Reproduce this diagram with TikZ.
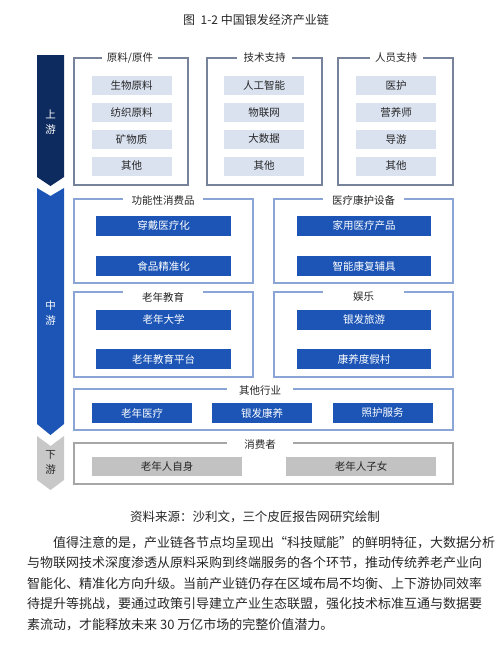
\documentclass[tikz,border=0pt]{standalone}
\usepackage{fontspec}
\setmainfont{Noto Sans CJK SC}
\XeTeXlinebreaklocale "zh"
\XeTeXlinebreakskip=0pt plus 2pt
\usepackage{xcolor}

\definecolor{navyup}{HTML}{0E2B5F}
\definecolor{bluemid}{HTML}{1C55B6}
\definecolor{frameup}{HTML}{76839B}
\definecolor{framemid}{HTML}{8AA5D6}
\definecolor{fillup}{HTML}{DAE2F0}
\definecolor{graybar}{HTML}{C8C8C8}
\definecolor{grayframe}{HTML}{A6A6A6}
\definecolor{grayfill}{HTML}{C2C2C2}
\definecolor{textdark}{HTML}{262626}

\tikzset{
  upframe/.style={draw=frameup, line width=1.2pt},
  midframe/.style={draw=framemid, line width=1.2pt},
  lowframe/.style={draw=grayframe, line width=1.2pt},
  grptitle/.style={fill=white, inner sep=0pt, minimum height=12pt, text=textdark},
  upbox/.style={fill=fillup, minimum width=80pt, minimum height=19pt, inner sep=0pt, text=textdark},
  midbox/.style={fill=bluemid, minimum height=20pt, inner sep=0pt, text=white},
  lowbox/.style={fill=grayfill, minimum width=150pt, minimum height=19pt, inner sep=0pt, text=textdark},
  barlabel/.style={align=center, inner sep=0pt, font=\fontsize{10.5}{15}\selectfont},
  paraline/.style={anchor=west, inner sep=0pt, text=textdark, font=\fontsize{13}{13}\selectfont}
}

\begin{document}
\begin{tikzpicture}[x=1pt, y=-1pt, font=\fontsize{10.5}{12}\selectfont]
  \useasboundingbox (0,0) rectangle (502,665);

  % Caption
  \node[text=textdark, font=\fontsize{12}{12}\selectfont] (caption) at (256,20) {图\ \ 1-2\ 中国银发经济产业链};

  % Stage bar on the left
  \fill[navyup] (37,55) -- (64,55) -- (64,177) -- (50.5,186) -- (37,177) -- cycle;
  \fill[bluemid] (37,188) -- (50.5,196) -- (64,188) -- (64,424) -- (50.5,435) -- (37,424) -- cycle;
  \fill[graybar] (37,436) -- (50.5,446) -- (64,436) -- (64,480) -- (50.5,490) -- (37,480) -- cycle;
  \node[barlabel, text=white] (up) at (50.5,122.5) {上\\游};
  \node[barlabel, text=white] (mid) at (50.5,313.5) {中\\游};
  \node[barlabel, text=textdark] (down) at (50.5,462) {下\\游};

  % Upstream groups
  \draw[upframe] (74,58) rectangle (188,185);
  \draw[upframe] (207,58) rectangle (322,185);
  \draw[upframe] (338,58) rectangle (453,185);
  \node[grptitle, minimum width=56pt] (rawt) at (130,58) {原料/原件};
  \node[grptitle, minimum width=55pt] (techt) at (264.5,58) {技术支持};
  \node[grptitle, minimum width=53pt] (staft) at (396,58) {人员支持};

  \node[upbox] (raw1) at (131.5,85.5) {生物原料};
  \node[upbox] (raw2) at (131.5,112.5) {纺织原料};
  \node[upbox] (raw3) at (131.5,139) {矿物质};
  \node[upbox] (raw4) at (131.5,166) {其他};

  \node[upbox] (tech1) at (264,85.5) {人工智能};
  \node[upbox] (tech2) at (264,112.5) {物联网};
  \node[upbox] (tech3) at (264,139) {大数据};
  \node[upbox] (tech4) at (264,166) {其他};

  \node[upbox] (staf1) at (396,85.5) {医护};
  \node[upbox] (staf2) at (396,112.5) {营养师};
  \node[upbox] (staf3) at (396,139) {导游};
  \node[upbox] (staf4) at (396,166) {其他};

  % Midstream groups
  \draw[midframe] (74,199) rectangle (253,283);
  \draw[midframe] (274,199) rectangle (453,283);
  \draw[midframe] (74,292) rectangle (253,377);
  \draw[midframe] (274,292) rectangle (453,377);
  \node[grptitle, minimum width=80pt] (funct) at (163,200) {功能性消费品};
  \node[grptitle, minimum width=81pt] (medt) at (363.5,200) {医疗康护设备};
  \node[grptitle, minimum width=80pt, minimum height=14pt] (edut) at (163,297) {老年教育};
  \node[grptitle, minimum width=81pt, minimum height=14pt] (funt) at (363.5,297) {娱乐};

  \node[midbox, minimum width=135pt] (func1) at (163.5,226) {穿戴医疗化};
  \node[midbox, minimum width=135pt] (func2) at (163.5,266) {食品精准化};
  \node[midbox, minimum width=134pt] (med1) at (364,226) {家用医疗产品};
  \node[midbox, minimum width=134pt] (med2) at (364,266) {智能康复辅具};
  \node[midbox, minimum width=135pt] (edu1) at (163.5,319.5) {老年大学};
  \node[midbox, minimum width=135pt] (edu2) at (163.5,359) {老年教育平台};
  \node[midbox, minimum width=134pt] (fun1) at (364,319.5) {银发旅游};
  \node[midbox, minimum width=134pt] (fun2) at (364,359) {康养度假村};

  % Other industries
  \draw[midframe] (74,389) rectangle (453,430);
  \node[grptitle, minimum width=66pt] (otht) at (260,391) {其他行业};
  \node[midbox, minimum width=100pt] (oth1) at (142,413) {老年医疗};
  \node[midbox, minimum width=100pt] (oth2) at (262,413) {银发康养};
  \node[midbox, minimum width=100pt] (oth3) at (382.5,413) {照护服务};

  % Downstream
  \draw[lowframe] (74,443) rectangle (453,484);
  \node[grptitle, minimum width=66pt] (cont) at (260,444) {消费者};
  \node[lowbox] (con1) at (167,466.5) {老年人自身};
  \node[lowbox] (con2) at (361,466.5) {老年人子女};

  % Source and text
  \node[text=textdark, font=\fontsize{12.5}{12.5}\selectfont] (source) at (255,517) {资料来源：沙利文，三个皮匠报告网研究绘制};
  \node[paraline] (line1) at (53,543) {\makebox[432pt][s]{值得注意的是，产业链各节点均呈现出“科技赋能”的鲜明特征，大数据分析}};
  \node[paraline] (line2) at (27,563) {\makebox[458pt][s]{与物联网技术深度渗透从原料采购到终端服务的各个环节，推动传统养老产业向}};
  \node[paraline] (line3) at (27,583.5) {\makebox[458pt][s]{智能化、精准化方向升级。当前产业链仍存在区域布局不均衡、上下游协同效率}};
  \node[paraline] (line4) at (27,604) {\makebox[458pt][s]{待提升等挑战，要通过政策引导建立产业生态联盟，强化技术标准互通与数据要}};
  \node[paraline] (line5) at (27,624.5) {素流动，才能释放未来 30 万亿市场的完整价值潜力。};

\end{tikzpicture}
\end{document}
